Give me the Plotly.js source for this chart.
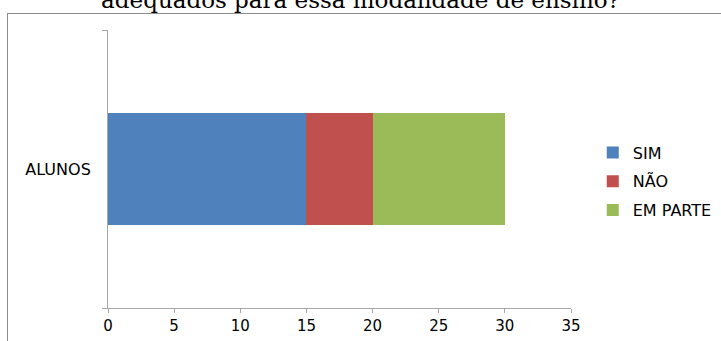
<!DOCTYPE html>
<html>
<head>
<meta charset="utf-8">
<script src="https://cdn.plot.ly/plotly-3.0.1.min.js"></script>
<style>
html,body{margin:0;padding:0;background:#fff;overflow:hidden;}
#wrap{position:relative;width:721px;height:341px;}
#chart{width:721px;height:341px;}
#frame{position:absolute;left:7px;top:13px;width:720px;height:340px;border:1px solid #8c8c8c;box-sizing:border-box;pointer-events:none;}
</style>
</head>
<body>
<div id="wrap">
<div id="chart"></div>
<div id="frame"></div>
</div>
<script>
const categories = ["ALUNOS"];
const seriesNames = ["SIM", "NÃO", "EM PARTE"];
const simValues = [15];
const naoValues = [5];
const emParteValues = [10];
const xTicks = [0, 5, 10, 15, 20, 25, 30, 35];
const titleText = "adequados para essa modalidade de ensino?";

const colors = ["#4F81BD", "#C0504D", "#9BBB59"];
const allValues = [simValues, naoValues, emParteValues];

const traces = allValues.map((vals, i) => ({
  type: "bar",
  orientation: "h",
  name: seriesNames[i],
  legendgroup: "g" + i,
  x: vals,
  y: categories,
  marker: {color: colors[i]},
  width: 0.4,
  hoverinfo: "none"
}));

const sans = "DejaVu Sans";

const layout = {
  width: 721,
  height: 341,
  margin: {l: 108, r: 150, t: 30, b: 33, autoexpand: false},
  barmode: "stack",
  paper_bgcolor: "#ffffff",
  plot_bgcolor: "#ffffff",
  title: {
    text: titleText,
    font: {family: "DejaVu Serif", size: 23, color: "#000"},
    x: 0.5, xanchor: "center",
    xref: "container", yref: "container",
    y: 1.0, yanchor: "middle"
  },
  xaxis: {
    range: [0, 35],
    tickvals: xTicks,
    ticktext: xTicks.map(String),
    showgrid: false,
    zeroline: false,
    showline: true,
    linecolor: "#a6a6a6",
    linewidth: 1,
    ticks: "outside",
    ticklen: 4,
    tickcolor: "#a6a6a6",
    tickfont: {family: sans, size: 15, color: "#000"},
    fixedrange: true
  },
  yaxis: {
    type: "category",
    showgrid: false,
    zeroline: false,
    showline: true,
    linecolor: "#a6a6a6",
    linewidth: 1,
    ticks: "outside",
    tickson: "boundaries",
    ticklen: 5,
    tickcolor: "#a6a6a6",
    tickfont: {family: sans, size: 16, color: "#000"},
    ticklabelstandoff: 13,
    fixedrange: true
  },
  legend: {
    x: 1.047, xanchor: "left",
    y: 0.455, yanchor: "middle",
    traceorder: "grouped",
    font: {family: sans, size: 16, color: "#000"},
    itemwidth: 30,
    tracegroupgap: 5,
    bgcolor: "rgba(0,0,0,0)"
  },
  showlegend: true
};

Plotly.newPlot("chart", traces, layout, {displayModeBar: false, staticPlot: true});
</script>
</body>
</html>
